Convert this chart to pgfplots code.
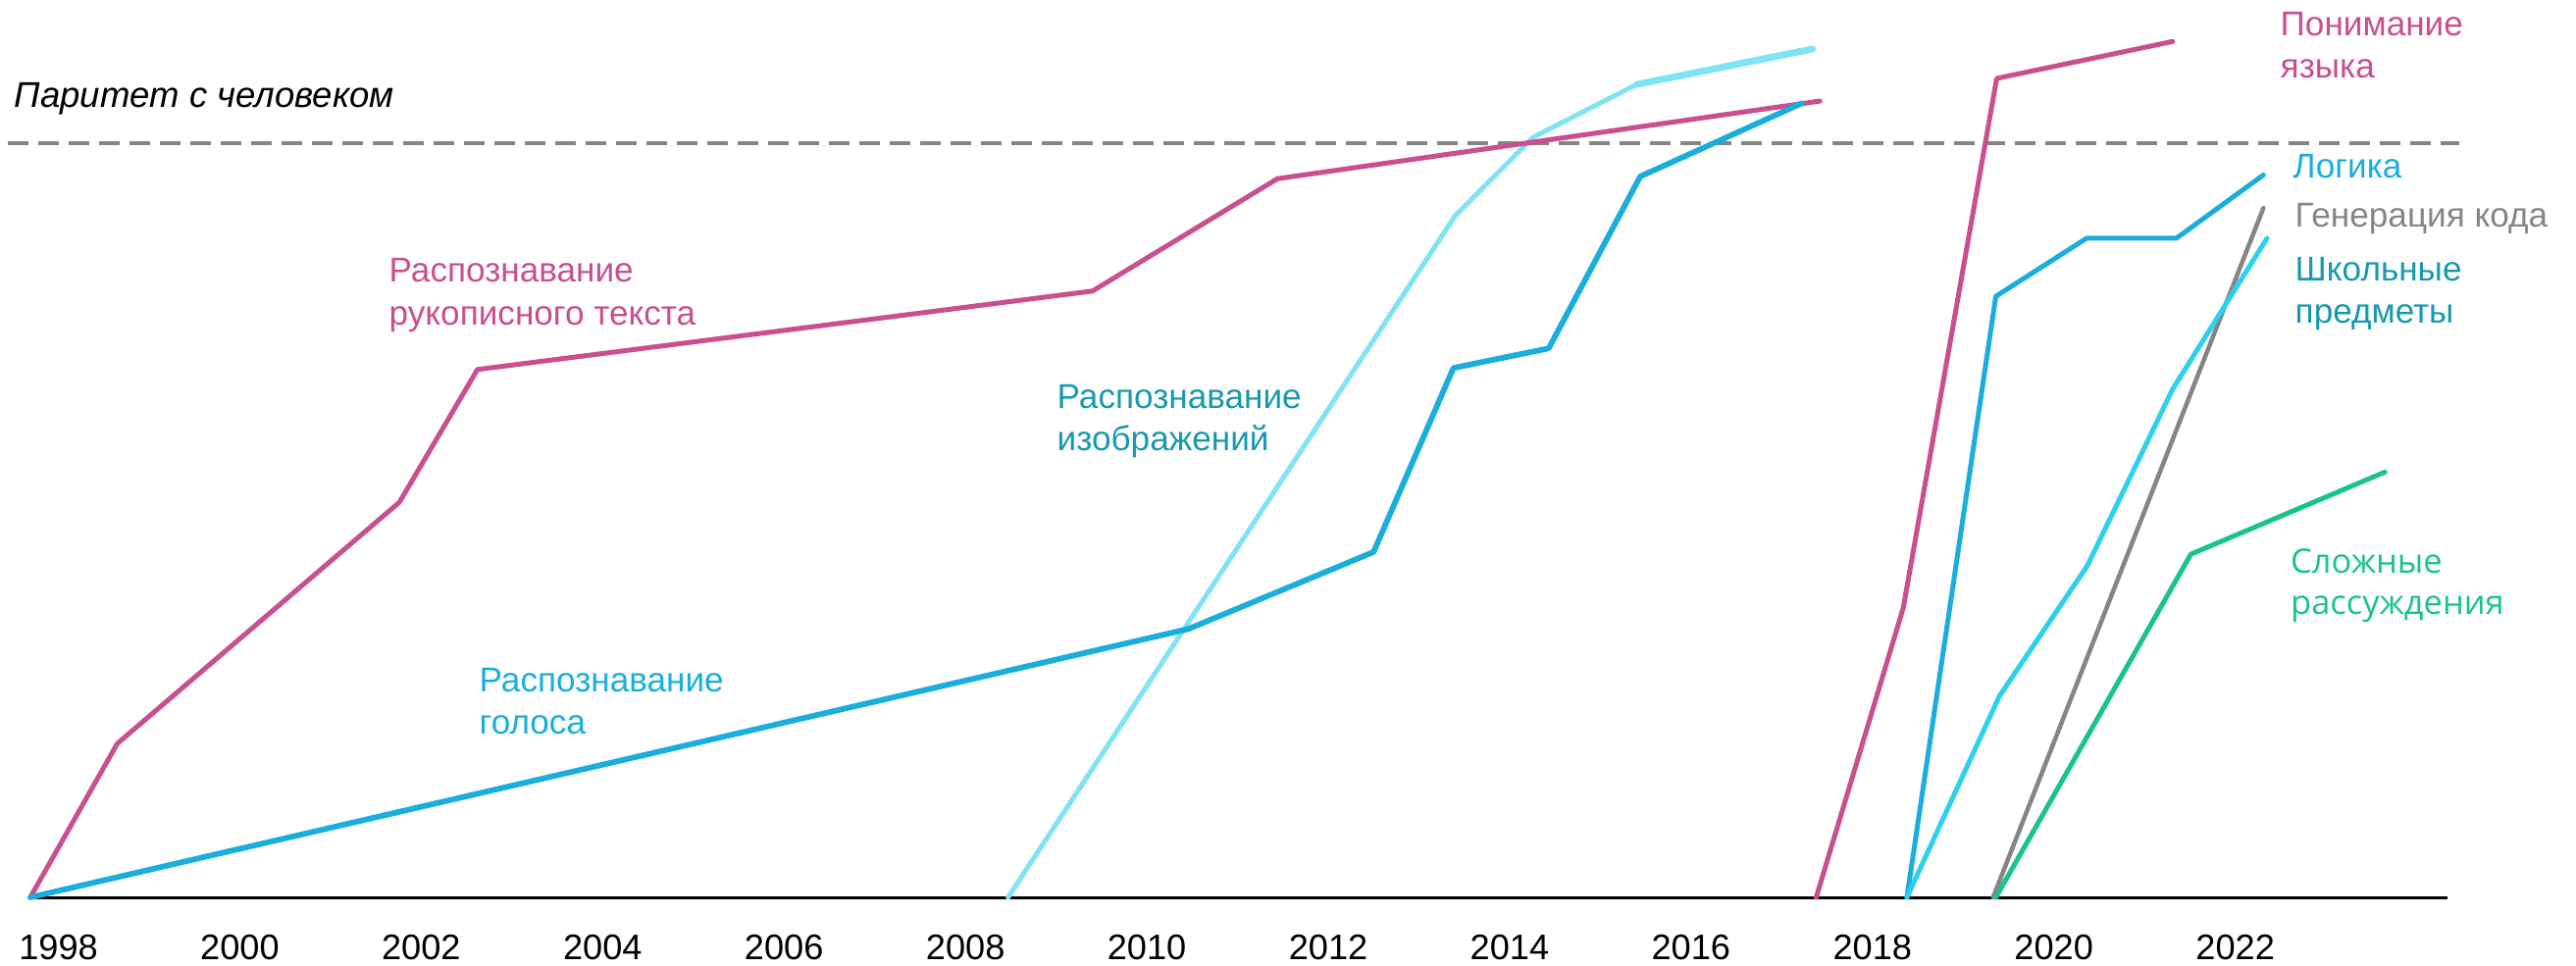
\documentclass[border=0pt]{standalone}
\usepackage{fontspec}
\setmainfont{Liberation Sans}
\newfontfamily\opensans{Open Sans}
\usepackage{pgfplots}
\pgfplotsset{compat=1.18}
\definecolor{cmag}{HTML}{C94F8F}
\definecolor{cblue}{HTML}{1AAEDC}
\definecolor{clight}{HTML}{80E3F5}
\definecolor{ccyan}{HTML}{2DD0EE}
\definecolor{cgray}{HTML}{858585}
\definecolor{cgreen}{HTML}{19C48A}
\definecolor{cteal}{HTML}{1899AE}
\newcommand{\lbl}{\fontsize{10}{12.5}\selectfont}
\begin{document}
\begin{tikzpicture}
\begin{axis}[
  scale only axis,
  width=246.6mm, height=91.5mm,
  xmin=1997.67, xmax=2024.34, ymin=0, ymax=119,
  axis x line=bottom, axis y line=none,
  axis line style={-, line width=0.3mm, black},
  xtick={1998,2000,2002,2004,2006,2008,2010,2012,2014,2016,2018,2020,2022},
  xticklabels={1998,2000,2002,2004,2006,2008,2010,2012,2014,2016,2018,2020,2022},
  major tick length=0pt,
  xticklabel style={font=\fontsize{10.3}{12}\selectfont, anchor=base, yshift=-6.3mm, inner sep=0pt},
  /pgf/number format/assume math mode=true,
  clip=false,
  every axis plot/.append style={line join=round, line cap=round},
]
% parity line
\addplot[cgray, line width=0.35mm, dash pattern=on 2.1mm off 1.0mm, line cap=butt] coordinates {(1997.44,100) (2024.47,100)};
% image recognition
\addplot[clight, line width=0.5mm] coordinates {(2008.47,0) (2013.40,90.4) (2014.26,100.8) (2015.40,107.8)};
\addplot[clight, line width=0.7mm] coordinates {(2015.40,107.8) (2017.34,112.5)};
% handwriting
\addplot[cmag, line width=0.5mm] coordinates {(1997.69,0) (1998.65,20.4) (2001.76,52.4) (2002.62,70.0) (2009.40,80.4) (2011.44,95.3) (2017.42,105.6)};
% voice
\addplot[cblue, line width=0.58mm] coordinates {(1997.69,0) (2010.46,35.6) (2012.50,45.8) (2013.38,70.2) (2014.43,72.8) (2015.44,95.6) (2017.22,105.3)};
% language understanding
\addplot[cmag, line width=0.5mm] coordinates {(2017.38,0) (2018.34,38.4) (2019.37,108.6) (2021.31,113.5)};
% logic
\addplot[cblue, line width=0.5mm] coordinates {(2018.38,0) (2019.36,79.7) (2020.36,87.4) (2021.35,87.4) (2022.31,95.8)};
% code generation
\addplot[cgray, line width=0.45mm] coordinates {(2019.33,0) (2022.31,91.4)};
% school subjects
\addplot[ccyan, line width=0.5mm] coordinates {(2018.38,0) (2019.40,26.7) (2020.37,44.0) (2021.31,67.4) (2022.35,87.4)};
% complex reasoning
\addplot[cgreen, line width=0.5mm] coordinates {(2019.36,0) (2021.51,45.5) (2023.65,56.4)};
\end{axis}
\begin{scope}[every node/.style={inner sep=0pt, anchor=base west}]
\node at (-1.5mm,80.5mm) {\fontsize{10.4}{12}\selectfont\itshape Паритет с человеком};
\node[text=cmag] at (36.7mm,62.7mm) {\lbl Распознавание};
\node[text=cmag] at (36.7mm,58.3mm) {\lbl рукописного текста};
\node[text=cblue] at (45.9mm,20.9mm) {\lbl Распознавание};
\node[text=cblue] at (45.9mm,16.6mm) {\lbl голоса};
\node[text=cteal] at (104.8mm,49.8mm) {\lbl Распознавание};
\node[text=cteal] at (104.8mm,45.5mm) {\lbl изображений};
\node[text=cmag] at (229.5mm,87.8mm) {\lbl Понимание};
\node[text=cmag] at (229.5mm,83.5mm) {\lbl языка};
\node[text=cblue] at (230.8mm,73.3mm) {\lbl Логика};
\node[text=cgray] at (231.0mm,68.3mm) {\lbl Генерация кода};
\node[text=cteal] at (231.0mm,62.8mm) {\lbl Школьные};
\node[text=cteal] at (231.0mm,58.5mm) {\lbl предметы};
\node[text=cgreen] at (230.55mm,33.0mm) {\opensans\fontsize{9.8}{12.5}\selectfont Сложные};
\node[text=cgreen] at (230.55mm,28.8mm) {\opensans\fontsize{9.8}{12.5}\selectfont рассуждения};
\end{scope}
\pgfresetboundingbox
\path[use as bounding box] (-2.9mm,-6.9mm) rectangle (259.7mm,91.5mm);
\end{tikzpicture}
\end{document}
